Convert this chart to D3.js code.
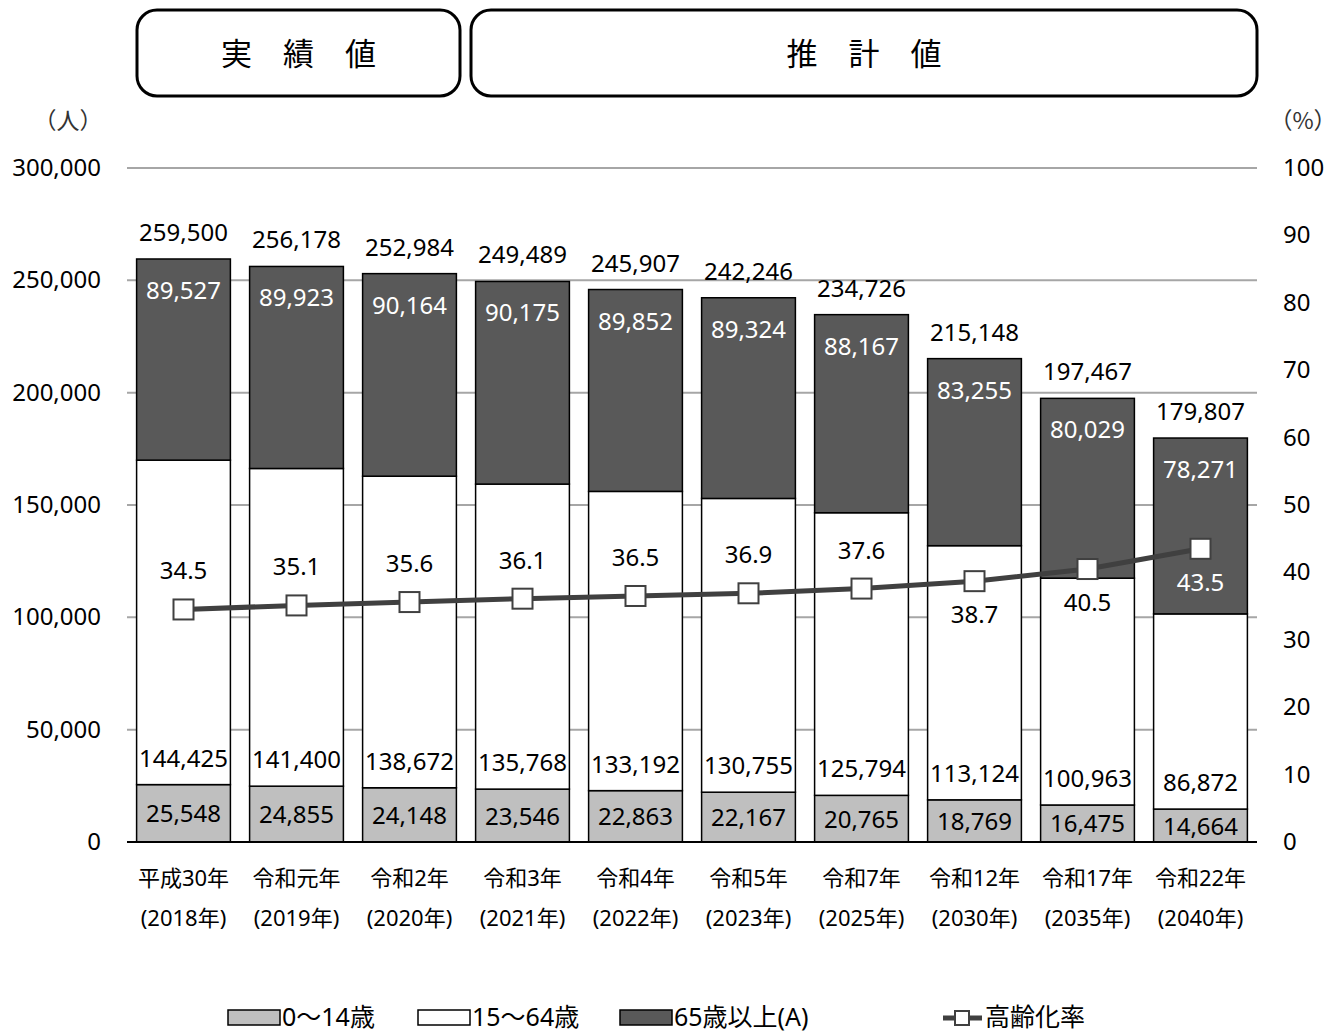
<!DOCTYPE html>
<html>
<head>
<meta charset="utf-8">
<script src="https://cdn.jsdelivr.net/npm/d3@7"></script>
<style>
  body { margin: 0; background: #fff; }
  svg { display: block; font-family: "Noto Sans", "Noto Sans CJK JP", sans-serif; }
</style>
</head>
<body>
<svg class="chart" width="1341" height="1032"></svg>
<script>
// data
const categories = ['平成30年', '令和元年', '令和2年', '令和3年', '令和4年', '令和5年', '令和7年', '令和12年', '令和17年', '令和22年']
const years = ['(2018年)', '(2019年)', '(2020年)', '(2021年)', '(2022年)', '(2023年)', '(2025年)', '(2030年)', '(2035年)', '(2040年)']
const age0to14 = [25548, 24855, 24148, 23546, 22863, 22167, 20765, 18769, 16475, 14664]
const age15to64 = [144425, 141400, 138672, 135768, 133192, 130755, 125794, 113124, 100963, 86872]
const age65plus = [89527, 89923, 90164, 90175, 89852, 89324, 88167, 83255, 80029, 78271]
const totals = [259500, 256178, 252984, 249489, 245907, 242246, 234726, 215148, 197467, 179807]
const agingRate = [34.5, 35.1, 35.6, 36.1, 36.5, 36.9, 37.6, 38.7, 40.5, 43.5]
const leftTicks = [0, 50000, 100000, 150000, 200000, 250000, 300000]
const rightTicks = [0, 10, 20, 30, 40, 50, 60, 70, 80, 90, 100]
const seriesNames = ['0～14歳', '15～64歳', '65歳以上(A)']
const lineName = '高齢化率'

const colors = ['#bfbfbf', '#ffffff', '#595959']
const lineColor = '#404040'

const svg = d3.select('.chart')

// plot area
const plotLeft = 127
const plotRight = 1257
const plotTop = 168
const plotBottom = 842

const x = d3.scaleBand()
    .domain(categories)
    .range([plotLeft, plotRight])
    .paddingInner(0.17)
    .paddingOuter(0.085)

const y = d3.scaleLinear().domain([0, 300000]).range([plotBottom, plotTop])
const y2 = d3.scaleLinear().domain([0, 100]).range([plotBottom, plotTop])

// header boxes
const boxes = [
  { label: '実　績　値', x0: 137, x1: 460 },
  { label: '推　計　値', x0: 471, x1: 1257 }
]
const hdr = svg.append('g')
hdr.selectAll('rect').data(boxes)
  .enter().append('rect')
    .attr('x', d => d.x0)
    .attr('y', 10)
    .attr('width', d => d.x1 - d.x0)
    .attr('height', 86)
    .attr('rx', 20)
    .attr('fill', '#fff')
    .attr('stroke', '#000')
    .attr('stroke-width', 3)
hdr.selectAll('text').data(boxes)
  .enter().append('text')
    .attr('x', d => (d.x0 + d.x1) / 2)
    .attr('y', 65)
    .attr('text-anchor', 'middle')
    .attr('font-family', '"Noto Sans CJK JP"')
    .attr('font-size', 31)
    .text(d => d.label)

// gridlines
svg.append('g').selectAll('line').data(leftTicks.filter(d => d > 0))
  .enter().append('line')
    .attr('x1', plotLeft)
    .attr('x2', plotRight)
    .attr('y1', d => y(d))
    .attr('y2', d => y(d))
    .attr('stroke', '#a6a6a6')
    .attr('stroke-width', 2)

// left axis labels
svg.append('g').selectAll('text').data(leftTicks)
  .enter().append('text')
    .attr('x', 101)
    .attr('y', d => y(d) + 8)
    .attr('text-anchor', 'end')
    .attr('font-size', 24)
    .text(d => d3.format(',')(d))

// right axis labels
svg.append('g').selectAll('text').data(rightTicks)
  .enter().append('text')
    .attr('x', 1283)
    .attr('y', d => y2(d) + 8)
    .attr('font-size', 24)
    .text(d => d)

svg.append('text')
  .attr('x', 68).attr('y', 129)
  .attr('text-anchor', 'middle')
  .attr('font-family', '"Noto Sans CJK JP"')
  .attr('font-size', 23)
  .attr('fill', '#333')
  .text('（人）')
svg.append('text')
  .attr('x', 1303).attr('y', 129)
  .attr('text-anchor', 'middle')
  .attr('font-family', '"Noto Sans CJK JP"')
  .attr('font-size', 23)
  .attr('fill', '#333')
  .text('（%）')

// stacked bars
const rows = categories.map((c, i) => ({ cat: c, a: age0to14[i], b: age15to64[i], c: age65plus[i] }))
const stack = d3.stack().keys(['a', 'b', 'c'])(rows)

const bars = svg.append('g')
stack.forEach((layer, k) => {
  bars.append('g').selectAll('rect').data(layer)
    .enter().append('rect')
      .attr('x', d => x(d.data.cat))
      .attr('y', d => y(d[1]))
      .attr('width', x.bandwidth())
      .attr('height', d => y(d[0]) - y(d[1]))
      .attr('fill', colors[k])
      .attr('stroke', '#000')
      .attr('stroke-width', 1.5)
})

// baseline
svg.append('line')
  .attr('x1', plotLeft).attr('x2', plotRight)
  .attr('y1', plotBottom).attr('y2', plotBottom)
  .attr('stroke', '#000').attr('stroke-width', 2)

const cx = c => x(c) + x.bandwidth() / 2
const fmt = d3.format(',')
const labels = svg.append('g').attr('text-anchor', 'middle').attr('font-size', 24)

// 0-14 labels centred in segment
labels.selectAll('.l0').data(stack[0])
  .enter().append('text')
    .attr('x', d => cx(d.data.cat))
    .attr('y', d => (y(d[0]) + y(d[1])) / 2 + 9)
    .text(d => fmt(d.data.a))

// 15-64 labels near segment bottom
labels.selectAll('.l1').data(stack[1])
  .enter().append('text')
    .attr('x', d => cx(d.data.cat))
    .attr('y', d => y(d[0]) - 18)
    .text(d => fmt(d.data.b))

// 65+ labels near segment top
labels.selectAll('.l2').data(stack[2])
  .enter().append('text')
    .attr('x', d => cx(d.data.cat))
    .attr('y', d => y(d[1]) + 40)
    .attr('fill', '#fff')
    .text(d => fmt(d.data.c))

// totals above bars
labels.selectAll('.lt').data(categories)
  .enter().append('text')
    .attr('x', d => cx(d))
    .attr('y', (d, i) => y(totals[i]) - 18)
    .text((d, i) => fmt(totals[i]))

// aging rate line
const line = d3.line()
    .x((d, i) => cx(categories[i]))
    .y(d => y2(d))
svg.append('path')
  .attr('d', line(agingRate))
  .attr('fill', 'none')
  .attr('stroke', lineColor)
  .attr('stroke-width', 5)

svg.append('g').selectAll('rect').data(agingRate)
  .enter().append('rect')
    .attr('x', (d, i) => cx(categories[i]) - 10)
    .attr('y', d => y2(d) - 10)
    .attr('width', 20)
    .attr('height', 20)
    .attr('fill', '#fff')
    .attr('stroke', lineColor)
    .attr('stroke-width', 2)

// rate labels: above for the first seven, below afterwards
labels.selectAll('.lr').data(agingRate)
  .enter().append('text')
    .attr('x', (d, i) => cx(categories[i]))
    .attr('y', (d, i) => i < 7 ? y2(d) - 30 : y2(d) + 42)
    .attr('fill', (d, i) => i === 9 ? '#fff' : '#000')
    .text(d => d.toFixed(1))

// category labels
const xl = svg.append('g').attr('text-anchor', 'middle').attr('font-size', 22)
xl.selectAll('.c1').data(categories)
  .enter().append('text')
    .attr('x', d => cx(d))
    .attr('y', 886)
    .text(d => d)
xl.selectAll('.c2').data(categories)
  .enter().append('text')
    .attr('x', d => cx(d))
    .attr('y', 926)
    .text((d, i) => years[i])

// legend
const legend = svg.append('g').attr('font-size', 25)
const legendPos = [228, 418, 620]
seriesNames.forEach((name, k) => {
  legend.append('rect')
    .attr('x', legendPos[k]).attr('y', 1010)
    .attr('width', 52).attr('height', 15)
    .attr('fill', colors[k])
    .attr('stroke', '#000')
    .attr('stroke-width', 1.5)
  legend.append('text')
    .attr('x', legendPos[k] + 54).attr('y', 1026)
    .text(name)
})
legend.append('line')
  .attr('x1', 943).attr('x2', 982)
  .attr('y1', 1018).attr('y2', 1018)
  .attr('stroke', lineColor).attr('stroke-width', 5)
legend.append('rect')
  .attr('x', 955).attr('y', 1011)
  .attr('width', 14).attr('height', 14)
  .attr('fill', '#fff').attr('stroke', lineColor).attr('stroke-width', 2)
legend.append('text')
  .attr('x', 985).attr('y', 1026)
  .text(lineName)
</script>
</body>
</html>
